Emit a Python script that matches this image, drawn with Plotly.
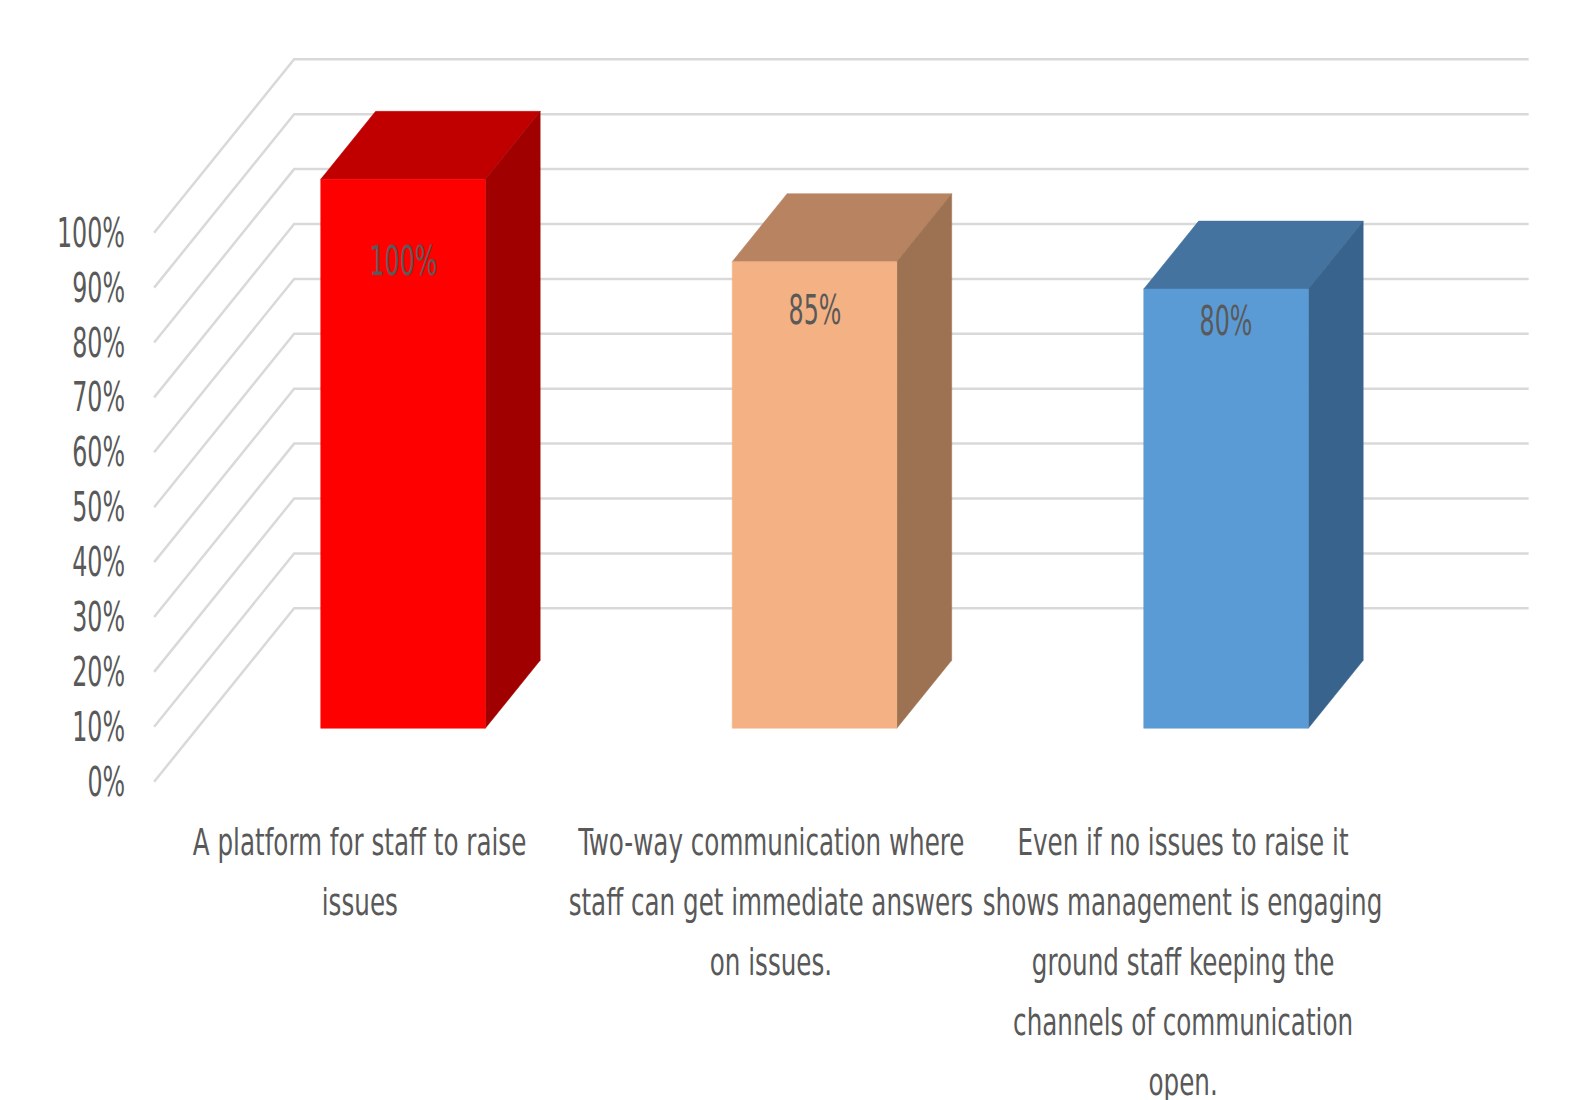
import json
import plotly.graph_objects as go

# ---------------- data ----------------
categories = [
    "A platform for staff to raise<br>issues",
    "Two-way communication where<br>staff can get immediate answers<br>on issues.",
    "Even if no issues to raise it<br>shows management is engaging<br>ground staff keeping the<br>channels of communication<br>open.",
]
values = [100, 85, 80]
value_labels = ["100%", "85%", "80%"]
tick_values = [0, 10, 20, 30, 40, 50, 60, 70, 80, 90, 100]
tick_labels = ["0%", "10%", "20%", "30%", "40%", "50%", "60%", "70%", "80%", "90%", "100%"]

# ---------------- style / geometry ----------------
W, H = 1581, 1100
ORIGIN_X_PX, ORIGIN_Y_PX = 359.9, 781.7   # category 0, value 0, depth 0
CAT_PX = 411.5                             # pixels per category step
PCT_PX = 5.49                              # pixels per percent
DEPTH_DX_PX, DEPTH_DY_PX = 140.0, 173.4    # full depth offset in pixels
DX = DEPTH_DX_PX / CAT_PX
DY = DEPTH_DY_PX / PCT_PX
BAR_W = 0.4
D_FRONT, D_BACK = 0.308, 0.70
WALL_L, WALL_R = -0.5, 2.5

FRONT = ["#FF0000", "#F4B183", "#5B9BD5"]
TOP = ["#C00000", "#B88361", "#44739F"]
SIDE = ["#A00000", "#9C7252", "#37638D"]
GRID = "#D9D9D9"
TXT = "#595959"
FONT = "DejaVu Sans Condensed, DejaVu Sans, sans-serif"
TICK_SIZE, CAT_SIZE = 40, 38
SQUEEZE = {TICK_SIZE: 0.66, CAT_SIZE: 0.72}   # horizontal text compression
LABEL_DROP_PX = [82, 48, 32]
LINE_PX = 60


def proj(x, d, v):
    return x + DX * d, v + DY * d


fig = go.Figure()

# walls' gridlines
gx, gy = [], []
for t in tick_values:
    for (x, d) in [(WALL_L, 0), (WALL_L, 1), (WALL_R, 1)]:
        px, py = proj(x, d, t)
        gx.append(px)
        gy.append(py)
    gx.append(None)
    gy.append(None)
fig.add_trace(go.Scatter(x=gx, y=gy, mode="lines",
                         line=dict(color=GRID, width=2.5),
                         hoverinfo="skip"))


def poly(pts, color):
    xs = [p[0] for p in pts] + [pts[0][0]]
    ys = [p[1] for p in pts] + [pts[0][1]]
    fig.add_trace(go.Scatter(x=xs, y=ys, mode="lines", fill="toself",
                             fillcolor=color, line=dict(color=color, width=0.5),
                             hoverinfo="skip"))


for i, v in enumerate(values):
    xl, xr = i - BAR_W / 2, i + BAR_W / 2
    poly([proj(xl, D_FRONT, v), proj(xr, D_FRONT, v),
          proj(xr, D_BACK, v), proj(xl, D_BACK, v)], TOP[i])
    poly([proj(xr, D_FRONT, 0), proj(xr, D_FRONT, v),
          proj(xr, D_BACK, v), proj(xr, D_BACK, 0)], SIDE[i])
    poly([proj(xl, D_FRONT, 0), proj(xr, D_FRONT, 0),
          proj(xr, D_FRONT, v), proj(xl, D_FRONT, v)], FRONT[i])

annotations = []
for t, lab in zip(tick_values, tick_labels):
    annotations.append(dict(x=WALL_L, y=t, xref="x", yref="y", text=lab,
                            showarrow=False, xanchor="right", yanchor="middle",
                            align="right", xshift=-27,
                            font=dict(family=FONT, size=TICK_SIZE, color=TXT)))

for i, (v, lab) in enumerate(zip(values, value_labels)):
    cx, cy = proj(i, D_FRONT, v)
    annotations.append(dict(x=cx, y=cy, xref="x", yref="y", text=lab,
                            showarrow=False, xanchor="center", yanchor="middle",
                            yshift=-LABEL_DROP_PX[i],
                            font=dict(family=FONT, size=TICK_SIZE, color=TXT)))

for i, cat in enumerate(categories):
    for k, line in enumerate(cat.split("<br>")):
        annotations.append(dict(x=i, y=0, xref="x", yref="y", text=line,
                                showarrow=False, xanchor="center", yanchor="middle",
                                yshift=-(60.3 + LINE_PX * k),
                                font=dict(family=FONT, size=CAT_SIZE, color=TXT)))

fig.update_layout(
    width=W, height=H,
    margin=dict(l=0, r=0, t=0, b=0),
    paper_bgcolor="white", plot_bgcolor="white",
    showlegend=False, hovermode=False,
    annotations=annotations,
    xaxis=dict(range=[-ORIGIN_X_PX / CAT_PX, (W - ORIGIN_X_PX) / CAT_PX],
               visible=False, fixedrange=True),
    yaxis=dict(range=[(ORIGIN_Y_PX - H) / PCT_PX, ORIGIN_Y_PX / PCT_PX],
               visible=False, fixedrange=True),
)

post_script = """
var gd = document.getElementById('{plot_id}');
var factors = %s;
gd.querySelectorAll('g.annotation text.annotation-text').forEach(function(t){
  var fs = Math.round(parseFloat(t.style.fontSize || window.getComputedStyle(t).fontSize));
  var k = factors[fs];
  if (!k) { return; }
  var L = t.getComputedTextLength();
  t.setAttribute('lengthAdjust', 'spacingAndGlyphs');
  t.setAttribute('textLength', (L * k).toFixed(2));
  var bb = t.getBBox();
  var rects = t.parentNode.querySelectorAll('rect');
  rects.forEach(function(r){
    r.setAttribute('x', (bb.x - 1).toFixed(2));
    r.setAttribute('width', (bb.width + 2).toFixed(2));
  });
});
""" % json.dumps({str(k): v for k, v in SQUEEZE.items()})

fig.write_html("out.html", post_script=post_script)
